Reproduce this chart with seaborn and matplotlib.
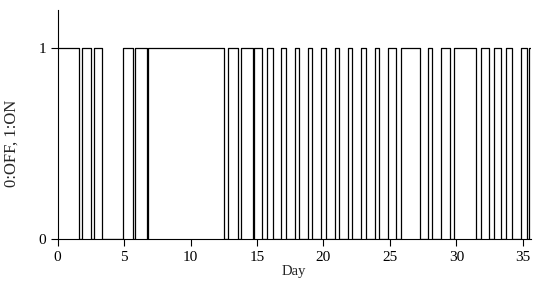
import numpy as np
import pandas as pd
import matplotlib
matplotlib.use("Agg")
import matplotlib.pyplot as plt
import seaborn as sns

# switching times (day) and the state that starts at each time
switch_day = [0.00, 1.62, 1.82, 2.49, 2.77, 3.37, 4.90, 5.65, 5.85, 6.70,
              6.78, 12.53, 12.83, 13.59, 13.79, 14.71, 14.81, 15.34, 15.76, 16.17,
              16.79, 17.19, 17.85, 18.17, 18.84, 19.17, 19.85, 20.17, 20.85, 21.17,
              21.85, 22.18, 22.86, 23.18, 23.85, 24.18, 24.85, 25.43, 25.86, 27.23,
              27.86, 28.16, 28.86, 29.49, 29.81, 31.49, 31.87, 32.42, 32.82, 33.37,
              33.75, 34.20, 34.87, 35.30, 35.50, 35.60]
state = [1, 0, 1, 0, 1, 0, 1, 0, 1, 0,
         1, 0, 1, 0, 1, 0, 1, 0, 1, 0,
         1, 0, 1, 0, 1, 0, 1, 0, 1, 0,
         1, 0, 1, 0, 1, 0, 1, 0, 1, 0,
         1, 0, 1, 0, 1, 0, 1, 0, 1, 0,
         1, 0, 1, 0, 1, 1]

x_ticks = [0, 5, 10, 15, 20, 25, 30, 35]
y_ticks = [0, 1]

df = pd.DataFrame({"day": switch_day, "state": state})

sns.set_style("ticks")
plt.rcParams["font.family"] = ["Liberation Serif", "DejaVu Serif"]
plt.rcParams["font.size"] = 11

fig = plt.figure(figsize=(5.34, 2.96), dpi=100)
ax = fig.add_axes([0.108, 0.193, 0.886, 0.773])

sns.lineplot(data=df, x="day", y="state", drawstyle="steps-post",
             color="black", linewidth=0.9, estimator=None, sort=False, ax=ax)

ax.set_xlim(0, 35.6)
ax.set_ylim(0, 1.2)
ax.set_xticks(x_ticks)
ax.set_yticks(y_ticks)
ax.set_xlabel("Day", fontsize=10.5, labelpad=1)
ax.set_ylabel("0:OFF, 1:ON", fontsize=12)
ax.yaxis.set_label_coords(-0.08, 0.5 / 1.2)
ax.tick_params(direction="out", length=5, width=0.8, labelsize=11, colors="black")
for side in ["top", "right"]:
    ax.spines[side].set_visible(False)
for side in ["left", "bottom"]:
    ax.spines[side].set_linewidth(0.8)
    ax.spines[side].set_color("black")

fig.savefig("out.png", dpi=100)
